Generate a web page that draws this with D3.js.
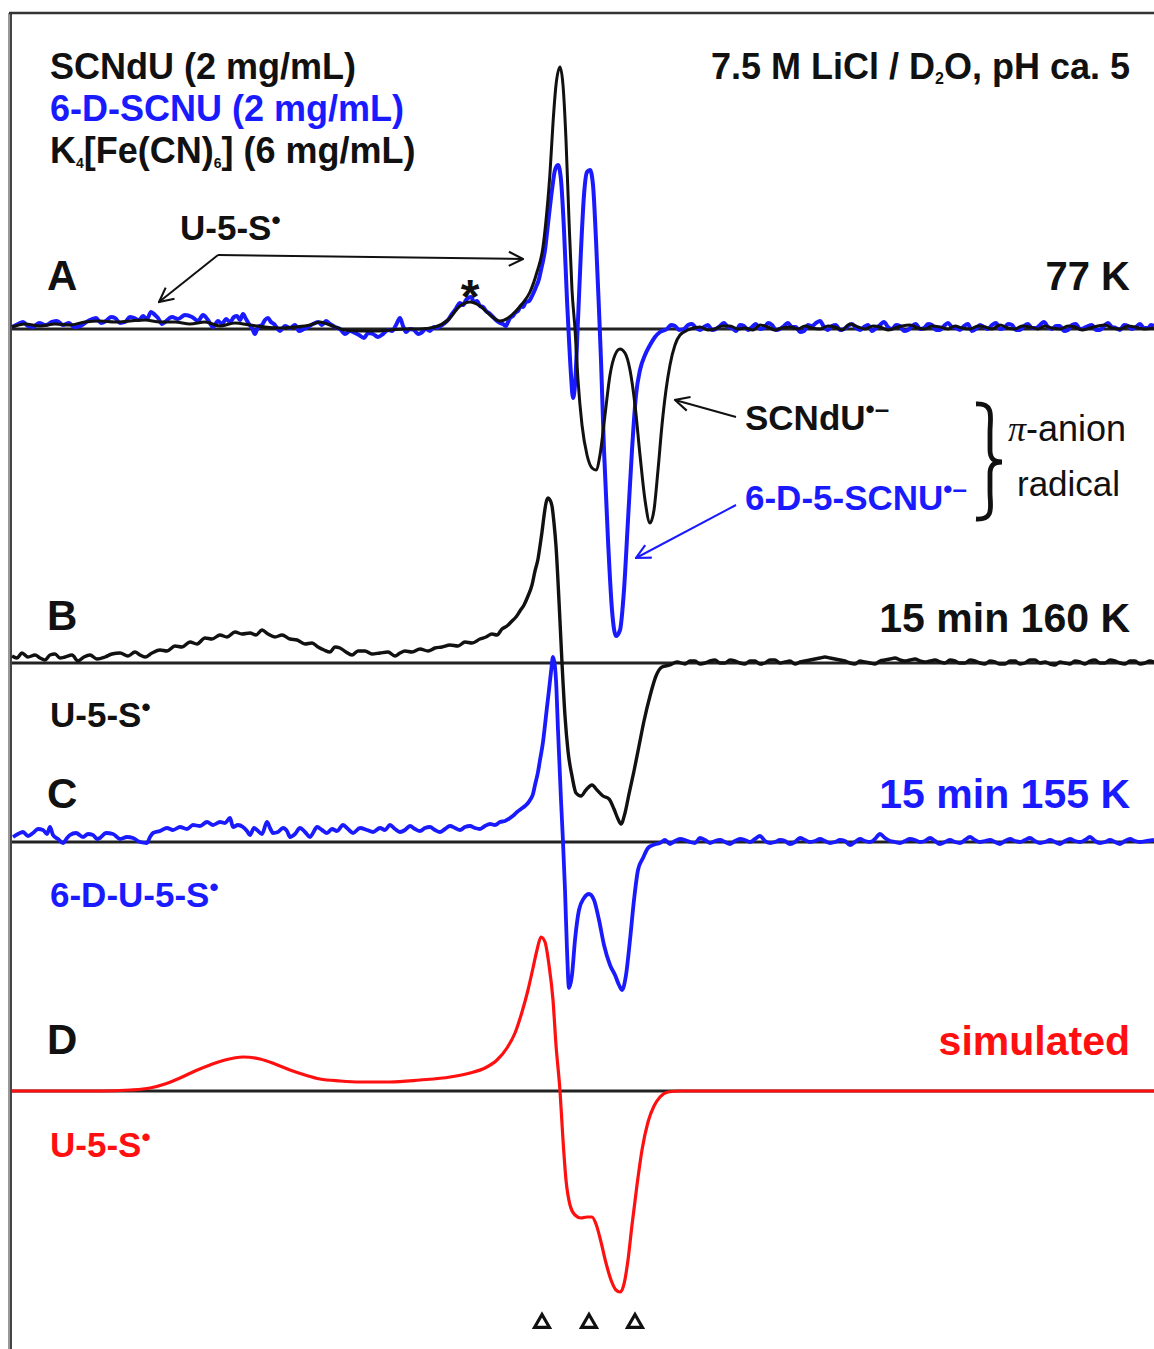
<!DOCTYPE html>
<html>
<head>
<meta charset="UTF-8">
<title>EPR spectra SCNdU / 6-D-SCNU</title>
<style>
body{margin:0;background:#fff;}
svg text{font-family:"Liberation Sans",Arial,Helvetica,sans-serif;}
</style>
</head>
<body>
<div id="vis"></div>
<script src="https://d3js.org/d3.v7.min.js"></script>
<script>
// field (arb. units) , intensity (arb. units, relative to each baseline)
var aBlack = [[0,2],[13,5],[28,3],[43,5],[58,4],[73,7],[88,8],[103,7],[118,8],[133,9],[148,7],[163,7],[178,5],[193,7],[208,3],[223,6],[238,4],[253,2],[268,1],[283,2],[298,4],[308,7],[318,4],[333,-1],[348,-2],[363,-2],[378,-1],[393,0],[408,0],[423,2],[436,9],[448,23],[458,27],[468,23],[478,14],[488,8],[496,11],[503,17],[510,25],[518,37],[525,57],[531,82],[535,119],[538,156],[541,206],[544,244],[548,262],[551,244],[554,189],[557,109],[560,39],[563,0],[566,-51],[570,-96],[575,-126],[580,-139],[584,-141],[588,-126],[593,-86],[598,-46],[603,-26],[608,-20],[613,-24],[618,-41],[623,-76],[628,-126],[633,-171],[638,-194],[642,-181],[646,-141],[650,-96],[654,-61],[658,-36],[663,-16],[668,-6],[676,-1],[688,2],[696,-1],[703,0],[710,3],[718,3],[726,0],[733,1],[741,-1],[748,4],[756,2],[763,-1],[770,1],[778,2],[786,0],[793,3],[800,1],[808,0],[816,3],[823,2],[830,-1],[838,5],[846,2],[853,0],[861,3],[868,2],[876,-1],[883,1],[890,3],[898,4],[906,1],[913,0],[920,3],[928,2],[936,0],[943,3],[950,1],[958,0],[966,3],[973,2],[980,0],[988,4],[996,1],[1003,0],[1010,3],[1018,2],[1026,0],[1033,3],[1040,1],[1048,0],[1056,3],[1063,2],[1070,-1],[1078,1],[1086,3],[1093,4],[1100,1],[1108,0],[1116,3],[1123,2],[1132,0],[1142,1]];

var aBlue = [[0,2],[6,5],[11,7],[16,3],[21,2],[27,6],[34,4],[40,7],[45,8],[51,4],[57,6],[62,2],[68,3],[76,8],[84,11],[89,6],[94,8],[99,12],[103,11],[108,6],[113,7],[118,12],[122,11],[127,9],[131,13],[135,10],[139,17],[143,14],[146,11],[150,5],[153,7],[160,12],[166,10],[173,14],[180,12],[186,8],[191,14],[196,9],[201,2],[206,8],[210,5],[214,10],[218,7],[222,12],[225,13],[228,9],[231,15],[234,10],[237,5],[240,1],[243,-5],[246,2],[250,4],[253,9],[256,11],[259,7],[262,5],[265,1],[268,-2],[273,3],[278,1],[283,4],[287,-2],[292,0],[296,2],[301,5],[306,7],[310,4],[314,8],[318,5],[323,2],[328,0],[333,-5],[338,-2],[343,-4],[347,-6],[352,-9],[356,-4],[361,-5],[366,-8],[371,-5],[376,-1],[380,-2],[384,4],[388,11],[391,3],[394,-3],[398,0],[402,-1],[406,-5],[409,-4],[414,0],[418,-2],[422,2],[425,1],[430,4],[436,9],[440,15],[443,19],[448,26],[451,24],[454,29],[459,32],[462,27],[465,28],[468,23],[471,22],[474,18],[477,16],[480,13],[482,11],[485,8],[488,6],[491,5],[494,3],[496,7],[498,11],[501,13],[503,16],[506,18],[509,23],[511,22],[514,27],[517,28],[519,31],[521,35],[524,42],[527,50],[529,59],[531,68],[533,79],[535,96],[537,114],[540,139],[543,159],[546,164],[549,149],[552,99],[555,29],[557,-11],[559,-46],[561,-69],[563,-56],[566,9],[569,79],[572,134],[575,157],[578,159],[581,144],[584,89],[587,19],[589,-31],[592,-121],[596,-211],[600,-281],[604,-307],[608,-301],[612,-261],[616,-191],[620,-121],[624,-66],[628,-41],[633,-26],[638,-16],[643,-8],[648,-3],[655,0],[659,4],[663,3],[667,-1],[672,0],[676,4],[680,5],[684,1],[688,-1],[692,2],[696,4],[700,-1],[704,0],[708,3],[712,6],[716,2],[720,1],[724,-2],[728,4],[732,3],[736,-1],[740,2],[744,5],[748,0],[752,1],[756,6],[760,4],[764,-1],[768,0],[772,3],[776,6],[780,2],[784,2],[788,-3],[792,-2],[796,4],[800,3],[804,6],[808,8],[812,2],[816,-1],[820,3],[824,4],[828,-1],[832,0],[836,3],[840,5],[844,1],[848,-1],[852,2],[856,4],[860,-2],[864,1],[868,4],[872,7],[876,2],[880,0],[884,4],[888,3],[892,-2],[896,-1],[900,3],[904,5],[908,0],[912,1],[916,5],[920,4],[924,-1],[928,-1],[932,3],[936,6],[940,2],[944,1],[948,-1],[952,3],[956,5],[960,-2],[964,0],[968,4],[972,2],[976,0],[980,4],[984,6],[988,0],[992,1],[996,5],[1000,4],[1004,-1],[1008,-1],[1012,3],[1016,5],[1020,1],[1024,1],[1028,4],[1032,7],[1036,2],[1040,0],[1044,3],[1048,3],[1052,-2],[1056,-1],[1060,4],[1064,5],[1068,0],[1072,1],[1076,3],[1080,4],[1084,-1],[1088,-1],[1092,3],[1096,6],[1100,2],[1104,1],[1108,-1],[1112,4],[1116,3],[1120,0],[1124,2],[1128,5],[1132,1],[1136,1],[1139,4],[1142,3]];

var bBlack = [[0,7],[5,5],[10,10],[16,6],[23,8],[28,5],[33,3],[38,8],[43,9],[48,5],[53,6],[60,8],[66,2],[72,6],[78,8],[85,4],[93,6],[100,9],[108,10],[116,7],[123,11],[128,8],[133,6],[140,10],[148,13],[155,12],[163,17],[170,16],[178,21],[185,19],[193,25],[200,24],[208,28],[215,26],[223,31],[230,29],[238,30],[244,28],[250,33],[256,29],[263,26],[270,28],[278,24],[285,23],[293,19],[300,20],[306,16],[312,13],[318,11],[323,16],[328,15],[334,11],[340,8],[346,12],[353,12],[360,9],[368,10],[376,11],[383,7],[388,10],[393,12],[400,11],[408,14],[416,12],[423,15],[430,16],[438,18],[446,17],[453,21],[460,20],[468,24],[474,26],[480,29],[485,28],[490,34],[495,37],[500,42],[504,46],[508,52],[512,58],[516,67],[520,78],[523,92],[526,104],[528,117],[530,131],[532,147],[534,160],[536,165],[538,163],[540,157],[542,140],[544,117],[547,62],[550,0],[553,-53],[556,-88],[560,-113],[564,-130],[569,-133],[574,-127],[580,-122],[585,-127],[591,-133],[597,-136],[602,-146],[606,-156],[609,-161],[613,-150],[617,-131],[622,-108],[627,-83],[632,-58],[638,-33],[644,-13],[650,-4],[658,-2],[665,1],[673,-1],[678,2],[683,2],[688,-1],[693,0],[698,2],[703,3],[708,0],[713,0],[718,3],[723,2],[728,0],[733,-1],[738,2],[743,2],[748,-1],[753,0],[758,3],[763,3],[768,0],[773,1],[778,2],[783,-1],[788,1],[793,2],[798,3],[803,4],[808,5],[813,6],[818,5],[823,4],[828,3],[833,2],[838,0],[843,-1],[848,2],[853,1],[858,0],[863,-1],[868,2],[873,3],[878,4],[883,5],[888,3],[893,2],[898,3],[903,4],[908,2],[913,1],[918,2],[923,3],[928,1],[933,0],[938,3],[943,2],[948,0],[953,0],[958,3],[963,2],[968,0],[973,-1],[978,2],[983,1],[988,-1],[993,-1],[998,2],[1003,2],[1008,-1],[1013,0],[1018,3],[1023,3],[1028,0],[1033,1],[1038,-1],[1043,-2],[1048,1],[1053,0],[1058,-1],[1063,2],[1068,1],[1073,-1],[1078,2],[1083,3],[1088,0],[1093,0],[1098,3],[1103,2],[1108,0],[1113,-1],[1118,2],[1123,2],[1128,-1],[1133,0],[1138,2],[1142,1]];

var cBlue = [[1,5],[6,8],[11,10],[16,6],[21,9],[26,13],[31,12],[35,8],[38,15],[41,7],[46,3],[51,-1],[55,4],[58,7],[64,9],[71,5],[76,8],[81,7],[85,3],[88,4],[94,9],[101,8],[108,3],[115,5],[121,4],[128,0],[135,-1],[138,5],[141,9],[148,11],[155,14],[161,12],[168,15],[175,13],[181,17],[188,16],[195,20],[201,17],[208,20],[213,19],[218,24],[221,15],[226,17],[231,15],[235,11],[238,7],[242,14],[245,12],[250,8],[255,20],[258,14],[261,9],[266,10],[271,14],[275,11],[278,5],[283,8],[288,14],[293,10],[298,5],[301,9],[305,15],[310,12],[315,9],[320,13],[325,11],[331,17],[336,13],[341,9],[348,14],[355,12],[361,10],[368,14],[373,12],[378,17],[383,13],[388,10],[393,12],[398,16],[403,13],[408,11],[413,14],[418,15],[423,12],[428,10],[433,13],[438,16],[443,14],[448,12],[453,15],[458,16],[463,14],[468,13],[473,16],[478,18],[483,17],[488,20],[493,21],[498,24],[502,27],[505,30],[509,33],[513,36],[516,39],[518,42],[521,48],[523,57],[526,70],[528,82],[531,100],[533,117],[535,135],[537,152],[539,170],[541,185],[543,175],[544,162],[546,112],[549,42],[551,0],[553,-48],[555,-108],[557,-146],[560,-133],[563,-98],[567,-68],[572,-56],[577,-52],[582,-58],[587,-78],[592,-103],[598,-123],[603,-133],[607,-143],[610,-148],[614,-133],[618,-98],[622,-58],[626,-28],[631,-16],[636,-6],[641,-3],[648,-1],[653,2],[658,-2],[663,1],[668,3],[673,2],[678,0],[683,-1],[688,4],[693,2],[698,-1],[703,1],[708,2],[713,0],[718,-2],[723,1],[728,3],[733,2],[738,0],[743,3],[748,6],[753,1],[758,-1],[763,0],[768,2],[773,1],[778,-2],[783,0],[788,4],[793,2],[798,0],[803,1],[808,3],[813,1],[818,-1],[823,0],[828,2],[833,1],[838,-3],[843,0],[848,3],[853,1],[858,0],[863,3],[868,8],[873,4],[878,1],[883,0],[888,-1],[893,1],[898,3],[903,2],[908,0],[913,1],[918,4],[923,1],[928,-2],[933,0],[938,2],[943,0],[948,-1],[953,2],[958,5],[963,2],[968,0],[973,1],[978,2],[983,0],[988,-2],[993,1],[998,3],[1003,1],[1008,0],[1013,2],[1018,4],[1023,1],[1028,-1],[1033,0],[1038,2],[1043,0],[1048,-2],[1053,1],[1058,3],[1063,1],[1068,0],[1073,2],[1078,5],[1083,1],[1088,-1],[1093,0],[1098,2],[1103,0],[1108,-2],[1113,1],[1118,3],[1123,1],[1128,0],[1135,1],[1142,2]];

var dRed = [[0,0],[48,0],[88,0],[118,1],[138,3],[153,7],[168,13],[183,20],[198,26],[213,31],[231,34],[248,32],[263,27],[278,21],[293,16],[308,12],[328,10],[348,9],[378,9],[408,11],[438,14],[458,18],[473,23],[485,31],[495,43],[503,58],[510,79],[516,101],[521,123],[525,141],[529,154],[533,149],[537,126],[541,91],[544,46],[548,0],[551,-49],[554,-89],[558,-114],[563,-124],[569,-127],[575,-126],[580,-126],[584,-133],[589,-151],[594,-172],[599,-189],[604,-199],[608,-201],[612,-193],[616,-169],[620,-134],[625,-94],[630,-59],[636,-31],[642,-15],[648,-6],[656,-1],[668,0],[1142,0]];

// open triangles under the simulated spectrum
var markerFields = [530, 577, 623];

var width = 1154, height = 1349;
var svg = d3.select("#vis").append("svg")
	.attr("width", width)
	.attr("height", height);

var x = d3.scaleLinear().domain([0, 1142]).range([12, 1154]);
function panelY(base) {
	return d3.scaleLinear().domain([-300, 300]).range([base + 300, base - 300]);
}
var yA = panelY(329), yB = panelY(663), yC = panelY(842), yD = panelY(1091);

var BLUE = "#1a1aff", RED = "#ff1010", INK = "#111";

// arrow heads
var defs = svg.append("defs");
[["chevK", INK], ["chevB", BLUE]].forEach(function(m) {
	defs.append("marker")
		.attr("id", m[0])
		.attr("viewBox", "0 0 12 12")
		.attr("refX", 11).attr("refY", 6)
		.attr("markerWidth", 17).attr("markerHeight", 17)
		.attr("markerUnits", "userSpaceOnUse")
		.attr("orient", "auto")
		.append("path")
		.attr("d", "M1,1 L11,6 L1,11")
		.attr("fill", "none")
		.attr("stroke", m[1])
		.attr("stroke-width", 1.5);
});

// frame
svg.append("rect").attr("x", 8).attr("y", 13).attr("width", 4).attr("height", height).attr("fill", "#999");
svg.append("line").attr("x1", 11).attr("x2", 11).attr("y1", 12).attr("y2", height)
	.attr("stroke", "#444").attr("stroke-width", 2);
svg.append("line").attr("x1", 9).attr("x2", width).attr("y1", 13).attr("y2", 13)
	.attr("stroke", "#333").attr("stroke-width", 2.5);

// baselines
[yA, yB, yC, yD].forEach(function(y) {
	svg.append("line")
		.attr("x1", x(0)).attr("x2", x(1142))
		.attr("y1", y(0)).attr("y2", y(0))
		.attr("stroke", "#222").attr("stroke-width", 2.8);
});

function trace(data, y, color, w, curve) {
	var line = d3.line()
		.x(function(d) { return x(d[0]); })
		.y(function(d) { return y(d[1]); })
		.curve(curve || d3.curveMonotoneX);
	svg.append("path")
		.datum(data)
		.attr("d", line)
		.attr("fill", "none")
		.attr("stroke", color)
		.attr("stroke-width", w)
		.attr("stroke-linejoin", "round");
}

trace(dRed, yD, RED, 3.2);
trace(cBlue, yC, BLUE, 3.8);
trace(bBlack, yB, INK, 3.4);
trace(aBlue, yA, BLUE, 4);
trace(aBlack, yA, INK, 3);

// arrows (in field / intensity units of panel A)
function arrow(x1, y1, x2, y2, y, color, mk) {
	svg.append("line")
		.attr("x1", x(x1)).attr("y1", y(y1))
		.attr("x2", x(x2)).attr("y2", y(y2))
		.attr("stroke", color).attr("stroke-width", 2)
		.attr("marker-end", "url(#" + mk + ")");
}
arrow(206, 74, 511, 70, yA, INK, "chevK");
arrow(206, 74, 147, 27, yA, INK, "chevK");
arrow(724, -88, 663, -71, yA, INK, "chevK");
arrow(724, -176, 624, -229, yA, BLUE, "chevB");

// brace
svg.append("path")
	.attr("d", "M976,404 C995,403 990,418 990,432 L990,450 C990,458 993,462 1002,462 C993,462 990,466 990,474 L990,492 C990,506 995,520 976,519")
	.attr("fill", "none").attr("stroke", INK).attr("stroke-width", 4.8);

// marker triangles
svg.selectAll("path.tri")
	.data(markerFields)
	.enter()
	.append("path")
	.attr("class", "tri")
	.attr("transform", function(d) { return "translate(" + x(d) + ",1323)"; })
	.attr("d", d3.symbol(d3.symbolTriangle, 95))
	.attr("fill", "none").attr("stroke", INK).attr("stroke-width", 3.2);

// text helpers
function label(px, py, color, size, weight, anchor) {
	return svg.append("text")
		.attr("x", px).attr("y", py)
		.attr("fill", color)
		.attr("font-size", size)
		.attr("font-weight", weight || "bold")
		.attr("text-anchor", anchor || "start");
}
function sup(t, s, size, dy) {
	t.append("tspan").attr("font-size", size || 26).attr("dy", dy || -11).text(s);
	return t;
}

var t = label(50, 79, INK, 36); t.text("SCNdU (2 mg/mL)");
label(50, 121, BLUE, 36).text("6-D-SCNU (2 mg/mL)");
t = label(50, 163, INK, 36);
t.append("tspan").text("K");
t.append("tspan").attr("font-size", 14).attr("dy", 5).text("4");
t.append("tspan").attr("dy", -5).text("[Fe(CN)");
t.append("tspan").attr("font-size", 14).attr("dy", 5).text("6");
t.append("tspan").attr("dy", -5).text("] (6 mg/mL)");

t = label(1130, 79, INK, 36, "bold", "end");
t.append("tspan").text("7.5 M LiCl / D");
t.append("tspan").attr("font-size", 16).attr("dy", 5).text("2");
t.append("tspan").attr("dy", -5).text("O, pH ca. 5");

t = label(180, 240, INK, 35); t.append("tspan").text("U-5-S"); sup(t, "\u2022");
label(470, 313, INK, 48, "bold", "middle").text("*");

label(47, 290, INK, 42).text("A");
label(1130, 290, INK, 40, "bold", "end").text("77 K");

t = label(745, 430, INK, 35); t.append("tspan").text("SCNdU"); sup(t, "\u2022\u2013", 26, -12);
t = label(745, 510, BLUE, 35); t.append("tspan").text("6-D-5-SCNU"); sup(t, "\u2022\u2013", 26, -12);
t = label(1008, 441, INK, 36, "normal");
t.append("tspan").attr("font-family", "Liberation Serif, serif").attr("font-style", "italic").text("\u03c0");
t.append("tspan").text("-anion");
label(1017, 496, INK, 35, "normal").text("radical");

label(47, 630, INK, 42).text("B");
label(1130, 632, INK, 41, "bold", "end").text("15 min 160 K");
t = label(50, 727, INK, 35); t.append("tspan").text("U-5-S"); sup(t, "\u2022");

label(47, 808, INK, 42).text("C");
label(1130, 808, BLUE, 41, "bold", "end").text("15 min 155 K");
t = label(50, 907, BLUE, 35); t.append("tspan").text("6-D-U-5-S"); sup(t, "\u2022");

label(47, 1054, INK, 42).text("D");
label(1130, 1055, RED, 41, "bold", "end").text("simulated");
t = label(50, 1157, RED, 35); t.append("tspan").text("U-5-S"); sup(t, "\u2022");
</script>
</body>
</html>
